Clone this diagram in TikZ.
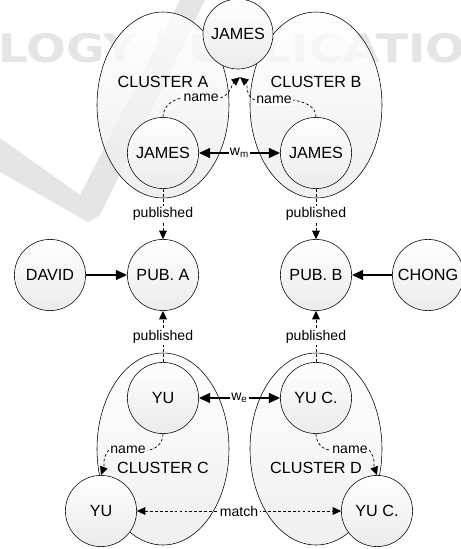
\documentclass[tikz,border=0pt]{standalone}
\usepackage{fontspec}
\setmainfont{Liberation Sans}
\newfontfamily\markfont{DejaVu Sans}
\usepackage{xcolor}
\usepackage{tikz}
\usetikzlibrary{arrows.meta,shapes.geometric}
\definecolor{Fade}{HTML}{ebebeb}
\definecolor{Mark}{HTML}{e5e5e5}
\tikzset{
  person/.style={circle, draw, top color=white, bottom color=Fade, minimum size=1.78cm, inner sep=0pt, font=\fontsize{11.5}{13}\selectfont},
  cluster/.style={ellipse, draw, top color=white, bottom color=Fade, fill opacity=0.8, minimum width=3.3cm, inner sep=0pt},
  caption/.style={font=\fontsize{11.5}{13}\selectfont},
  tag/.style={fill=white, inner sep=1pt, font=\fontsize{10}{12}\selectfont},
  heavy/.style={line width=1.3pt},
  link/.style={line width=0.5pt, dash pattern=on 2pt off 1.5pt},
  bigtip/.style={-{Triangle[length=8pt,width=7pt]}},
  smalltip/.style={-{Triangle[length=6pt,width=5.5pt]}},
}
\begin{document}
\begin{tikzpicture}%
\useasboundingbox (0,0) rectangle (11.525,-13.725);%
% watermark
\begin{scope}
\clip (0,0) rectangle (11.525,-13.725);%
\fill[Mark] (0,-3.45) -- (2.0,-4.875) -- (4.5,0) -- (5.125,0) -- (2.5,-5.375) -- (2.2,-5.55) -- (0,-4.3) -- cycle;%
\node[text=Mark, anchor=base west, inner sep=0pt, xscale=1.19, transform shape, font=\markfont\bfseries\fontsize{28}{30}\selectfont] (mark) at (-0.05,-1.55) {LOGY PUBLICATIONS};%
\end{scope}
% clusters
\node[cluster, minimum height=4.65cm] (clA) at (4.075,-2.625) {};%
\node[cluster, minimum height=4.65cm] (clB) at (7.9,-2.625) {};%
\node[cluster, minimum height=4.8cm] (clC) at (4.075,-11.225) {};%
\node[cluster, minimum height=4.8cm] (clD) at (7.9,-11.225) {};%
\node[caption] (capA) at (4.075,-2.05) {CLUSTER A};%
\node[caption] (capB) at (7.9,-2.05) {CLUSTER B};%
\node[caption] (capC) at (4.075,-11.7) {CLUSTER C};%
\node[caption] (capD) at (7.9,-11.7) {CLUSTER D};%
% people and publications
\node[person, minimum size=1.75cm] (jtop) at (5.95,-0.85) {JAMES};%
\node[person] (jamesA) at (4.075,-3.825) {JAMES};%
\node[person] (jamesB) at (7.9,-3.825) {JAMES};%
\node[person] (david) at (1.25,-6.875) {DAVID};%
\node[person] (pubA) at (4.075,-6.875) {PUB. A};%
\node[person] (pubB) at (7.9,-6.875) {PUB. B};%
\node[person] (chong) at (10.7,-6.875) {CHONG};%
\node[person] (yuA) at (4.075,-9.95) {YU};%
\node[person] (yuB) at (7.9,-9.95) {YU C.};%
\node[person] (yuC) at (2.525,-12.775) {YU};%
\node[person] (yuD) at (9.425,-12.775) {YU C.};%
\coordinate (meet) at (6.0,-1.93);%
% edge labels
\node[tag] (nameA) at (5.03,-2.45) {name};%
\node[tag] (nameB) at (6.85,-2.5) {name};%
\node[tag] (nameC) at (3.2,-11.25) {name};%
\node[tag] (nameD) at (8.75,-11.25) {name};%
% connectors
\draw[link, smalltip] (jamesA.north) to[out=90, in=190] (nameA.west) (nameA.east) to[out=20, in=-140] (meet);%
\draw[link, smalltip] (jamesB.north) to[out=90, in=-10] (nameB.east) (nameB.west) to[out=160, in=-40] (meet);%
\draw[heavy, {Triangle[length=8pt,width=7pt]}-{Triangle[length=8pt,width=7pt]}] (jamesA) -- node[tag] {w\textsubscript{m}} (jamesB);%
\draw[link, smalltip] (jamesA) -- node[tag] {published} (pubA);%
\draw[link, smalltip] (jamesB) -- node[tag] {published} (pubB);%
\draw[heavy, bigtip] (david) -- (pubA);%
\draw[heavy, bigtip] (chong) -- (pubB);%
\draw[link, smalltip] (yuA) -- node[tag] {published} (pubA);%
\draw[link, smalltip] (yuB) -- node[tag] {published} (pubB);%
\draw[heavy, {Triangle[length=8pt,width=7pt]}-{Triangle[length=8pt,width=7pt]}] (yuA) -- node[tag] {w\textsubscript{e}} (yuB);%
\draw[link, smalltip] (yuA.south) to[out=-90, in=0] (nameC.east) (nameC.west) to[out=-130, in=70] (yuC.north);%
\draw[link, smalltip] (yuB.south) to[out=-90, in=180] (nameD.west) (nameD.east) to[out=-50, in=110] (yuD.north);%
\draw[link, {Triangle[length=6pt,width=5.5pt]}-{Triangle[length=6pt,width=5.5pt]}] (yuC) -- node[tag] {match} (yuD);%
\end{tikzpicture}
\end{document}
